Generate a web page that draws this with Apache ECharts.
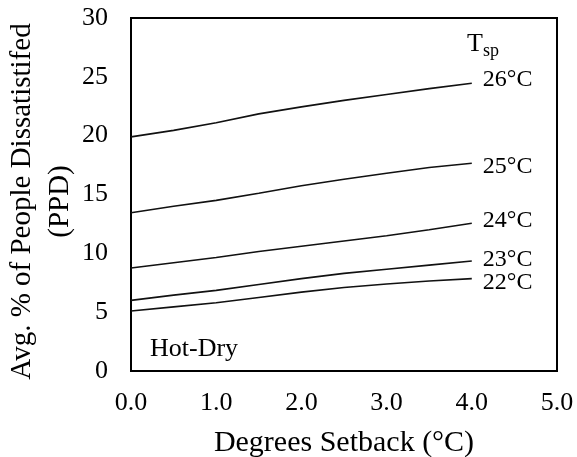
<!DOCTYPE html>
<html style="height: 100%">

<head>
  <meta charset="utf-8">
</head>

<body style="height: 100%; margin: 0; background: #fff">
  <div id="container" style="height: 100%"></div>
  <script type="text/javascript" src="https://cdn.jsdelivr.net/npm/echarts@6/dist/echarts.min.js"></script>
  <script type="text/javascript">
  // degrees setback (x) and average PPD for each set point
  var setback = [0, 0.5, 1, 1.5, 2, 2.5, 3, 3.5, 4];
  var ppd26 = [19.9, 20.45, 21.1, 21.85, 22.45, 23.0, 23.5, 24.0, 24.45];
  var ppd25 = [13.45, 14.0, 14.5, 15.1, 15.75, 16.3, 16.8, 17.3, 17.65];
  var ppd24 = [8.75, 9.2, 9.65, 10.15, 10.6, 11.05, 11.5, 12.0, 12.55];
  var ppd23 = [6.0, 6.45, 6.85, 7.35, 7.85, 8.3, 8.65, 9.0, 9.35];
  var ppd22 = [5.1, 5.45, 5.8, 6.25, 6.7, 7.1, 7.4, 7.65, 7.85];
  var setPoints = ['26°C', '25°C', '24°C', '23°C', '22°C'];
  var xTicks = [0, 1, 2, 3, 4, 5];

  var font = 'Liberation Serif';
  var dom = document.getElementById('container');
  var myChart = echarts.init(dom);

  function pairs(vals) {
    return vals.map(function (v, i) {
      return [setback[i], v];
    });
  }

  var labelOffsets = [[0, -4], [0, 3], [0, -3], [0, -1], [0, 4]];

  var series = [ppd26, ppd25, ppd24, ppd23, ppd22].map(function (vals, i) {
    return {
      name: setPoints[i],
      type: 'line',
      data: pairs(vals),
      showSymbol: false,
      animation: false,
      lineStyle: { color: '#111', width: 1.6 },
      endLabel: {
        show: true,
        formatter: setPoints[i],
        color: '#000',
        fontFamily: font,
        fontSize: 24,
        distance: 11,
        offset: labelOffsets[i]
      }
    };
  });

  var option = {
    backgroundColor: '#fff',
    grid: {
      left: 131,
      right: 20,
      top: 18,
      bottom: 86,
      outerBoundsMode: 'none',
      containLabel: false,
      show: true,
      borderColor: '#000',
      borderWidth: 2
    },
    xAxis: {
      type: 'value',
      min: xTicks[0],
      max: xTicks[xTicks.length - 1],
      interval: 1,
      name: 'Degrees Setback (°C)',
      nameLocation: 'middle',
      nameGap: 57,
      nameMoveOverlap: false,
      nameTextStyle: { fontFamily: font, fontSize: 30, color: '#000' },
      axisLine: { show: false },
      axisTick: { show: false },
      splitLine: { show: false },
      axisLabel: {
        margin: 19,
        fontFamily: font,
        fontSize: 26,
        color: '#000',
        formatter: function (v) { return v.toFixed(1); }
      }
    },
    yAxis: {
      type: 'value',
      min: 0,
      max: 30,
      interval: 5,
      name: 'Avg. % of People Dissatistifed\n(PPD)',
      nameLocation: 'middle',
      nameRotate: 90,
      nameGap: 52,
      nameMoveOverlap: false,
      nameTextStyle: {
        fontFamily: font,
        fontSize: 29,
        lineHeight: 38,
        color: '#000',
        padding: [0, 14, 0, 0]
      },
      axisLine: { show: false },
      axisTick: { show: false },
      splitLine: { show: false },
      axisLabel: {
        margin: 23,
        fontFamily: font,
        fontSize: 26,
        color: '#000'
      }
    },
    graphic: [
      {
        type: 'text',
        left: 467,
        top: 31,
        style: { text: 'T', fontFamily: font, fontSize: 26, fill: '#000' }
      },
      {
        type: 'text',
        left: 483,
        top: 42,
        style: { text: 'sp', fontFamily: font, fontSize: 18, fill: '#000' }
      },
      {
        type: 'text',
        left: 150,
        top: 336,
        style: { text: 'Hot-Dry', fontFamily: font, fontSize: 26, fill: '#000' }
      }
    ],
    series: series
  };

  myChart.setOption(option);
  </script>
</body>

</html>
